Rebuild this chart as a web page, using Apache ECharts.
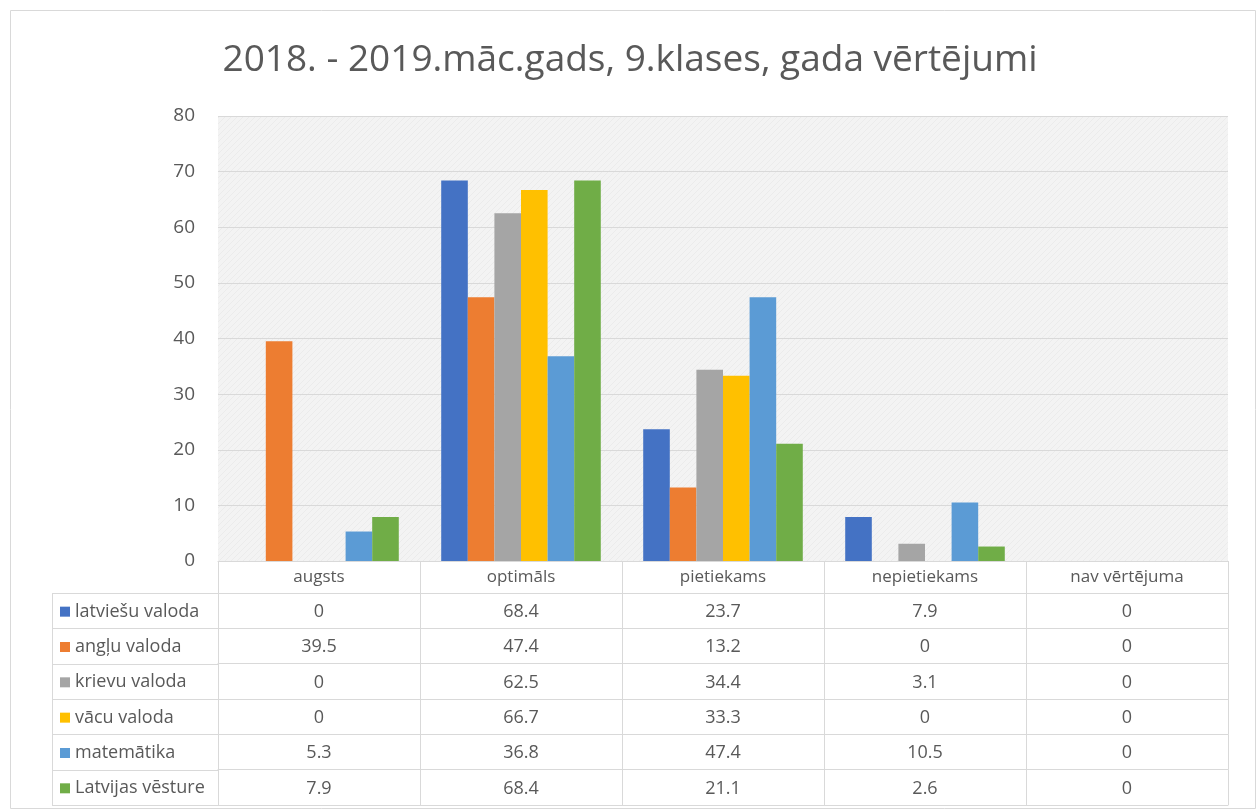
<!DOCTYPE html>
<html>
<head>
    <meta charset="utf-8">
    <title>9.klases gada vērtējumi</title>
    <style>
        html, body, #chart {
            margin: 0;
            padding: 0;
            width: 1260px;
            height: 809px;
            background: #fff;
            overflow: hidden;
        }
    </style>
</head>
<body>
<div id="chart"></div>
<script src="https://cdn.jsdelivr.net/npm/echarts@6/dist/echarts.min.js"></script>
<script>
    // dati
    var categories = ['augsts', 'optimāls', 'pietiekams', 'nepietiekams', 'nav vērtējuma'];
    var seriesNames = ['latviešu valoda', 'angļu valoda', 'krievu valoda', 'vācu valoda', 'matemātika', 'Latvijas vēsture'];
    var latviesu = [0, 68.4, 23.7, 7.9, 0];
    var anglu = [39.5, 47.4, 13.2, 0, 0];
    var krievu = [0, 62.5, 34.4, 3.1, 0];
    var vacu = [0, 66.7, 33.3, 0, 0];
    var matematika = [5.3, 36.8, 47.4, 10.5, 0];
    var vesture = [7.9, 68.4, 21.1, 2.6, 0];
    var yTicks = [0, 10, 20, 30, 40, 50, 60, 70, 80];

    var seriesData = [latviesu, anglu, krievu, vacu, matematika, vesture];
    var colors = ['#4472C4', '#ED7D31', '#A5A5A5', '#FFC000', '#5B9BD5', '#70AD47'];

    var font = '"Open Sans", Lato, sans-serif';
    var textColor = '#595959';
    var lineColor = '#d9d9d9';

    // tabulas izmēri
    var gridLeft = 218, gridRight = 1228, zeroY = 561;
    var headH = 32, rowH = 35.33, tableLeft = 52;

    // fona raksts (slīpas līnijas)
    var pat = document.createElement('canvas');
    pat.width = 6;
    pat.height = 6;
    var pctx = pat.getContext('2d');
    pctx.fillStyle = '#f3f3f3';
    pctx.fillRect(0, 0, 6, 6);
    pctx.strokeStyle = '#ebebeb';
    pctx.lineWidth = 1;
    pctx.beginPath();
    pctx.moveTo(0, 6);
    pctx.lineTo(6, 0);
    pctx.stroke();

    var myChart = echarts.init(document.getElementById('chart'));

    // galvene + datu rindas kā papildu x asis
    var xAxes = [{
        type: 'category',
        data: categories,
        position: 'bottom',
        axisLine: { lineStyle: { color: lineColor, width: 1 } },
        axisTick: { show: true, length: headH, lineStyle: { color: lineColor } },
        axisLabel: { color: textColor, fontSize: 17, fontFamily: font, margin: 8, interval: 0 }
    }];
    seriesData.forEach(function (vals, i) {
        xAxes.push({
            type: 'category',
            data: vals.map(function (v) { return String(v); }),
            position: 'bottom',
            offset: headH + i * rowH,
            axisLine: { lineStyle: { color: lineColor, width: 1 } },
            axisTick: { show: true, length: rowH, lineStyle: { color: lineColor } },
            axisLabel: { color: textColor, fontSize: 18, fontFamily: font, margin: 10, interval: 0 },
            splitLine: { show: false }
        });
    });
    // apakšējā līnija
    xAxes.push({
        type: 'category',
        data: categories,
        position: 'bottom',
        offset: headH + seriesData.length * rowH,
        axisLine: { lineStyle: { color: lineColor, width: 1 } },
        axisTick: { show: false },
        axisLabel: { show: false }
    });

    // rāmis un kreisās kolonnas līnijas
    var graphics = [{
        type: 'rect',
        shape: { x: 10.5, y: 10.5, width: 1245, height: 798 },
        style: { fill: 'none', stroke: lineColor, lineWidth: 1 },
        silent: true
    }];
    var tableTop = zeroY + headH;
    for (var r = 0; r <= seriesData.length; r++) {
        var yy = Math.round(tableTop + r * rowH) + 0.5;
        graphics.push({
            type: 'line',
            shape: { x1: tableLeft, y1: yy, x2: gridLeft, y2: yy },
            style: { stroke: lineColor, lineWidth: 1 },
            silent: true
        });
    }
    graphics.push({
        type: 'line',
        shape: { x1: tableLeft + 0.5, y1: tableTop, x2: tableLeft + 0.5, y2: tableTop + seriesData.length * rowH },
        style: { stroke: lineColor, lineWidth: 1 },
        silent: true
    });

    myChart.setOption({
        animation: false,
        color: colors,
        textStyle: { fontFamily: font },
        title: {
            text: '2018. - 2019.māc.gads, 9.klases, gada vērtējumi',
            left: 'center',
            top: 37,
            textStyle: { color: textColor, fontSize: 37, fontWeight: 'normal', fontFamily: font }
        },
        legend: {
            orient: 'vertical',
            left: 60,
            top: tableTop + 1,
            padding: 0,
            itemGap: 0,
            itemWidth: 10,
            itemHeight: 10,
            icon: 'rect',
            selectedMode: false,
            data: seriesNames,
            textStyle: { color: textColor, fontSize: 18, fontFamily: font, lineHeight: rowH }
        },
        grid: {
            left: gridLeft,
            right: 1260 - gridRight,
            top: 116,
            bottom: 809 - zeroY,
            show: true,
            borderWidth: 0,
            backgroundColor: { image: pat, repeat: 'repeat' }
        },
        xAxis: xAxes,
        yAxis: {
            type: 'value',
            min: yTicks[0],
            max: yTicks[yTicks.length - 1],
            interval: 10,
            axisLine: { show: false },
            axisTick: { show: false },
            axisLabel: { color: textColor, fontSize: 19, fontFamily: font, margin: 23 },
            splitLine: { lineStyle: { color: lineColor, width: 1 } }
        },
        series: seriesData.map(function (vals, i) {
            return {
                name: seriesNames[i],
                type: 'bar',
                xAxisIndex: 0,
                data: vals,
                barGap: '0%',
                barCategoryGap: '21%'
            };
        }),
        graphic: graphics
    });
</script>
</body>
</html>
